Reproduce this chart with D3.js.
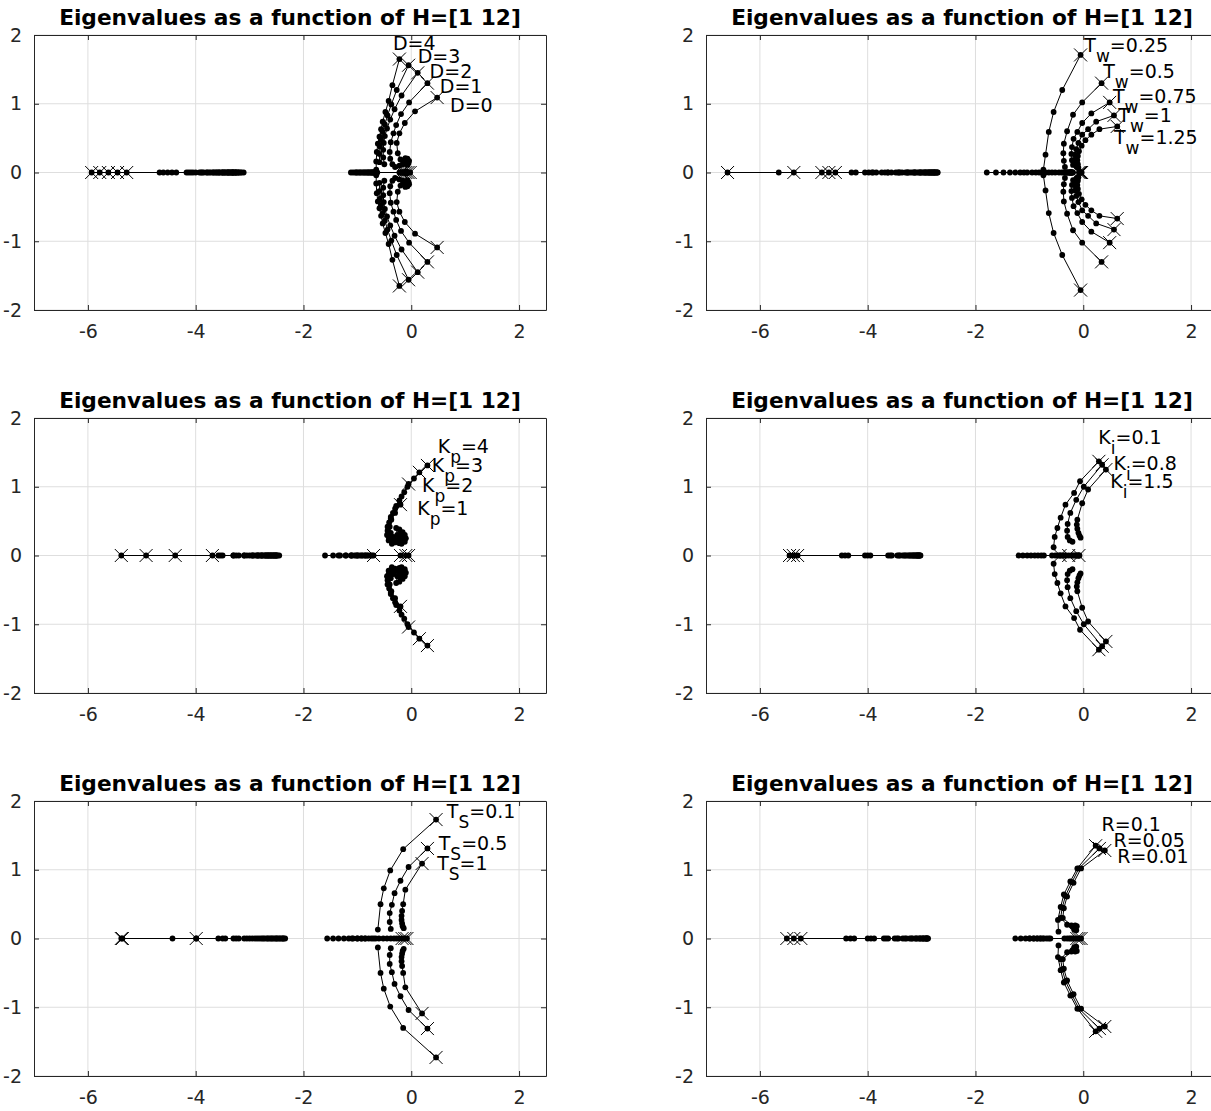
<!DOCTYPE html>
<meta charset="utf-8">
<script src="https://cdn.jsdelivr.net/npm/d3@7"></script>
<style>
body { margin: 0; background: #fff; }
text { font-family: "DejaVu Sans", sans-serif; }
</style>
<div id="chart"></div>
<script>
// ---- shared axis setup ----
const titleText = "Eigenvalues as a function of H=[1 12]";
const xTicks = [-6, -4, -2, 0, 2];
const yTicks = [-2, -1, 0, 1, 2];

// ---- panel 1: damping D ----
const dLabels = ["D=0", "D=1", "D=2", "D=3", "D=4"];
const dLabelAt = [[0.72, 0.98], [0.53, 1.26], [0.34, 1.47], [0.12, 1.69], [-0.34, 1.88]];
const dFar = [
  [-5.28, -4.36, -4.00, -3.80, -3.62, -3.50, -3.40, -3.32, -3.25, -3.20, -3.15, -3.11],
  [-5.45, -4.44, -4.05, -3.85, -3.68, -3.56, -3.46, -3.38, -3.31, -3.26, -3.21, -3.17],
  [-5.62, -4.52, -4.09, -3.88, -3.72, -3.60, -3.50, -3.42, -3.36, -3.31, -3.26, -3.22],
  [-5.78, -4.60, -4.13, -3.90, -3.75, -3.64, -3.55, -3.47, -3.41, -3.35, -3.30, -3.26],
  [-5.93, -4.67, -4.17, -3.93, -3.78, -3.67, -3.58, -3.51, -3.45, -3.39, -3.34, -3.30]
];
const dCplx = [
  [[0.48, 1.09], [0.07, 0.89], [-0.12, 0.72], [-0.22, 0.57], [-0.27, 0.43], [-0.25, 0.28], [-0.20, 0.19], [-0.14, 0.15], [-0.10, 0.13], [-0.07, 0.11], [-0.05, 0.14], [-0.04, 0.17], [-0.07, 0.20], [-0.11, 0.21]],
  [[0.30, 1.30], [-0.04, 1.02], [-0.19, 0.85], [-0.28, 0.69], [-0.33, 0.57], [-0.38, 0.44], [-0.40, 0.30], [-0.39, 0.20], [-0.35, 0.12], [-0.30, 0.08], [-0.22, 0.10], [-0.16, 0.12], [-0.12, 0.17]],
  [[0.12, 1.45], [-0.18, 1.12], [-0.31, 0.92], [-0.39, 0.77], [-0.45, 0.64], [-0.49, 0.53], [-0.51, 0.43], [-0.52, 0.33], [-0.52, 0.22], [-0.50, 0.12]],
  [[-0.05, 1.56], [-0.27, 1.20], [-0.37, 0.99], [-0.44, 0.83], [-0.49, 0.70], [-0.53, 0.59], [-0.56, 0.48], [-0.58, 0.38], [-0.59, 0.27], [-0.59, 0.15]],
  [[-0.22, 1.65], [-0.35, 1.27], [-0.42, 1.04], [-0.48, 0.88], [-0.53, 0.74], [-0.56, 0.63], [-0.59, 0.52], [-0.62, 0.42], [-0.64, 0.30], [-0.65, 0.16], [-0.65, 0.04]]
];
const dNear = [
  [-0.02, -0.20, -0.16, -0.13, -0.11, -0.09, -0.08, -0.07, -0.06],
  [-0.06, -0.22, -0.18, -0.15, -0.12, -0.10, -0.09, -0.08, -0.07],
  [-0.10, -1.02, -0.95, -0.88, -0.82, -0.77, -0.73, -0.70, -0.67],
  [-0.14, -1.08, -1.00, -0.93, -0.86, -0.80, -0.75, -0.71, -0.68, -0.65],
  [-0.18, -1.12, -1.04, -0.97, -0.90, -0.84, -0.79, -0.74, -0.70, -0.66, -0.63]
];

// ---- panel 2: turbine time constant T_w ----
const twLabels = ["T_w=0.25", "T_w=0.5", "T_w=0.75", "T_w=1", "T_w=1.25"];
const twLabelAt = [[0.02, 1.86], [0.37, 1.47], [0.55, 1.12], [0.65, 0.84], [0.57, 0.52]];
const twFar = [
  [-6.60, -5.65, -4.30, -3.90, -3.62, -3.42, -3.26, -3.12, -3.01, -2.92, -2.84, -2.77],
  [-5.37, -4.22, -3.84, -3.56, -3.36, -3.20, -3.08, -2.98, -2.90, -2.84, -2.79, -2.74],
  [-4.85, -4.05, -3.74, -3.48, -3.30, -3.16, -3.05, -2.96, -2.88, -2.82, -2.77, -2.72],
  [-4.72, -3.98, -3.68, -3.44, -3.27, -3.14, -3.03, -2.94, -2.87, -2.81, -2.76, -2.71],
  [-4.60, -3.92, -3.63, -3.40, -3.24, -3.12, -3.02, -2.93, -2.86, -2.80, -2.75, -2.70]
];
const twCplx = [
  [[-0.05, 1.71], [-0.39, 1.20], [-0.55, 0.88], [-0.64, 0.59], [-0.70, 0.26], [-0.74, 0.04]],
  [[0.34, 1.30], [-0.02, 1.02], [-0.19, 0.84], [-0.30, 0.60], [-0.36, 0.42], [-0.37, 0.28], [-0.36, 0.17], [-0.34, 0.08]],
  [[0.49, 1.02], [0.15, 0.86], [-0.02, 0.72], [-0.11, 0.59], [-0.18, 0.49], [-0.21, 0.37], [-0.22, 0.27], [-0.21, 0.18], [-0.19, 0.11]],
  [[0.57, 0.83], [0.24, 0.74], [0.09, 0.63], [-0.02, 0.55], [-0.09, 0.43], [-0.13, 0.34], [-0.15, 0.26], [-0.15, 0.19], [-0.14, 0.13], [-0.12, 0.08]],
  [[0.63, 0.67], [0.30, 0.63], [0.15, 0.55], [0.04, 0.47], [-0.03, 0.39], [-0.08, 0.31], [-0.10, 0.24], [-0.11, 0.18], [-0.10, 0.12], [-0.09, 0.07]]
];
const twNear = [
  [-0.08, -1.79, -1.62, -1.48, -1.36, -1.26, -1.17, -1.10, -1.04],
  [-0.06, -0.95, -0.88, -0.82, -0.76, -0.70, -0.64, -0.58, -0.52],
  [-0.05, -0.45, -0.40, -0.36, -0.32, -0.29, -0.26, -0.24, -0.22],
  [-0.04, -0.30, -0.27, -0.25, -0.23, -0.21],
  [-0.03, -0.24, -0.22, -0.20, -0.19]
];

// ---- panel 3: proportional gain K_p ----
const kpLabels = ["K_p=1", "K_p=2", "K_p=3", "K_p=4"];
const kpLabelAt = [[0.11, 0.69], [0.20, 1.03], [0.38, 1.32], [0.49, 1.59]];
const kpFar = [
  [-3.69, -3.30, -3.10, -2.95, -2.85, -2.77, -2.70, -2.65, -2.60, -2.55, -2.50, -2.45],
  [-4.38, -3.50, -3.20, -3.00, -2.88, -2.80, -2.73, -2.67, -2.62, -2.57, -2.52, -2.48],
  [-4.92, -3.54, -3.25, -3.05, -2.92, -2.83, -2.76, -2.69, -2.64, -2.59, -2.54, -2.50],
  [-5.38, -3.58, -3.30, -3.10, -2.95, -2.85, -2.78, -2.71, -2.66, -2.61, -2.56, -2.52]
];
const kpCplx = [
  [[-0.20, 0.74], [-0.30, 0.62], [-0.37, 0.52], [-0.40, 0.42], [-0.38, 0.33], [-0.33, 0.27], [-0.27, 0.22], [-0.22, 0.19], [-0.18, 0.17], [-0.12, 0.20], [-0.10, 0.25], [-0.12, 0.30]],
  [[-0.05, 1.04], [-0.18, 0.86], [-0.30, 0.68], [-0.38, 0.54], [-0.42, 0.42], [-0.40, 0.32], [-0.34, 0.25], [-0.28, 0.21], [-0.22, 0.18], [-0.16, 0.22], [-0.14, 0.28], [-0.16, 0.34]],
  [[0.15, 1.21], [-0.07, 1.00], [-0.22, 0.80], [-0.34, 0.62], [-0.41, 0.48], [-0.44, 0.36], [-0.42, 0.27], [-0.36, 0.22], [-0.30, 0.19], [-0.22, 0.24], [-0.20, 0.31], [-0.22, 0.38]],
  [[0.30, 1.31], [0.05, 1.12], [-0.13, 0.92], [-0.28, 0.72], [-0.38, 0.56], [-0.44, 0.42], [-0.45, 0.30], [-0.42, 0.22], [-0.36, 0.17], [-0.28, 0.22], [-0.26, 0.30], [-0.28, 0.40]]
];
const kpNear = [
  [-0.05, -0.85, -0.80, -0.76, -0.73],
  [-0.10, -1.10, -1.00, -0.92, -0.86, -0.82],
  [-0.20, -1.35, -1.22, -1.11, -1.02, -0.95, -0.90],
  [-0.70, -1.60, -1.45, -1.32, -1.21, -1.12, -1.05, -0.99]
];

// ---- panel 4: integral gain K_i ----
const kiLabels = ["K_i=0.1", "K_i=0.8", "K_i=1.5"];
const kiLabelAt = [[0.28, 1.73], [0.56, 1.34], [0.50, 1.08]];
const kiFar = [
  [-5.45, -4.48, -4.05, -3.62, -3.45, -3.35, -3.27, -3.20, -3.15, -3.10, -3.07, -3.04],
  [-5.38, -4.42, -4.00, -3.58, -3.42, -3.32, -3.24, -3.18, -3.13, -3.09, -3.06, -3.03],
  [-5.30, -4.36, -3.95, -3.55, -3.40, -3.30, -3.22, -3.16, -3.12, -3.08, -3.05, -3.02]
];
const kiCplx = [
  [[0.29, 1.37], [-0.06, 1.08], [-0.17, 0.91], [-0.33, 0.74], [-0.42, 0.55], [-0.48, 0.40], [-0.53, 0.27], [-0.55, 0.12]],
  [[0.35, 1.32], [0.01, 1.00], [-0.13, 0.81], [-0.24, 0.62], [-0.29, 0.46], [-0.30, 0.36], [-0.29, 0.27], [-0.25, 0.22], [-0.20, 0.20]],
  [[0.42, 1.25], [0.09, 0.96], [-0.02, 0.76], [-0.11, 0.52], [-0.12, 0.45], [-0.11, 0.39], [-0.09, 0.33], [-0.07, 0.29], [-0.05, 0.26]]
];
const kiNear = [
  [-0.43, -1.20, -1.12, -1.04, -0.97, -0.90, -0.84, -0.78, -0.73],
  [-0.27, -0.58, -0.52, -0.47, -0.43, -0.39, -0.35, -0.32],
  [-0.08, -0.22, -0.19, -0.16, -0.13, -0.11, -0.09, -0.07]
];

// ---- panel 5: sampling time T_S ----
const tsLabels = ["T_S=0.1", "T_S=0.5", "T_S=1"];
const tsLabelAt = [[0.66, 1.86], [0.51, 1.39], [0.48, 1.10]];
const tsFar = [
  [-5.38, -4.43, -3.58, -3.30, -3.10, -2.95, -2.82, -2.72, -2.63, -2.55, -2.48, -2.40],
  [-5.36, -3.99, -3.50, -3.25, -3.05, -2.90, -2.78, -2.68, -2.60, -2.52, -2.45, -2.37],
  [-3.99, -3.45, -3.20, -3.00, -2.86, -2.75, -2.66, -2.58, -2.50, -2.43, -2.38, -2.34]
];
const tsCplx = [
  [[0.46, 1.73], [-0.15, 1.30], [-0.39, 0.99], [-0.51, 0.73], [-0.57, 0.50], [-0.62, 0.13]],
  [[0.30, 1.31], [-0.05, 1.04], [-0.20, 0.84], [-0.31, 0.66], [-0.36, 0.49], [-0.40, 0.37], [-0.40, 0.24], [-0.38, 0.14]],
  [[0.20, 1.09], [-0.11, 0.71], [-0.15, 0.50], [-0.17, 0.40], [-0.18, 0.33], [-0.18, 0.27], [-0.17, 0.22], [-0.16, 0.18], [-0.14, 0.15]]
];
const tsNear = [
  [-0.17, -1.56, -1.45, -1.35, -1.25, -1.16, -1.08, -1.00, -0.93, -0.86],
  [-0.12, -1.10, -1.00, -0.92, -0.85, -0.79, -0.74, -0.70, -0.66],
  [-0.08, -0.60, -0.52, -0.45, -0.38, -0.32, -0.27, -0.22]
];

// ---- panel 6: droop R ----
const rLabels = ["R=0.1", "R=0.05", "R=0.01"];
const rLabelAt = [[0.34, 1.67], [0.56, 1.44], [0.63, 1.20]];
const rFar = [
  [-5.50, -4.40, -4.00, -3.70, -3.50, -3.35, -3.22, -3.12, -3.04, -2.98, -2.93, -2.90],
  [-5.37, -4.32, -3.94, -3.66, -3.46, -3.31, -3.19, -3.10, -3.03, -2.97, -2.92, -2.89],
  [-5.24, -4.25, -3.88, -3.62, -3.43, -3.28, -3.17, -3.08, -3.01, -2.96, -2.91, -2.88]
];
const rCplx = [
  [[0.23, 1.35], [-0.11, 1.02], [-0.24, 0.83], [-0.36, 0.64], [-0.42, 0.46], [-0.47, 0.27], [-0.46, 0.10]],
  [[0.30, 1.31], [-0.08, 1.02], [-0.21, 0.82], [-0.33, 0.62], [-0.39, 0.45], [-0.42, 0.30], [-0.30, 0.20], [-0.20, 0.17], [-0.17, 0.13], [-0.15, 0.19]],
  [[0.40, 1.28], [-0.04, 1.02], [-0.18, 0.81], [-0.30, 0.61], [-0.36, 0.44], [-0.38, 0.30], [-0.22, 0.19], [-0.15, 0.16], [-0.13, 0.12], [-0.12, 0.18]]
];
const rNear = [
  [-0.12, -1.26, -1.16, -1.07, -0.99, -0.92, -0.86, -0.80, -0.75],
  [-0.08, -1.00, -0.92, -0.85, -0.79, -0.73, -0.68, -0.64, -0.61],
  [-0.04, -0.35, -0.30, -0.26, -0.23, -0.20, -0.17]
];

const panels = [
  { col: 0, row: 0, labels: dLabels, labelAt: dLabelAt, far: dFar, cplx: dCplx, near: dNear },
  { col: 1, row: 0, labels: twLabels, labelAt: twLabelAt, far: twFar, cplx: twCplx, near: twNear },
  { col: 0, row: 1, labels: kpLabels, labelAt: kpLabelAt, far: kpFar, cplx: kpCplx, near: kpNear },
  { col: 1, row: 1, labels: kiLabels, labelAt: kiLabelAt, far: kiFar, cplx: kiCplx, near: kiNear },
  { col: 0, row: 2, labels: tsLabels, labelAt: tsLabelAt, far: tsFar, cplx: tsCplx, near: tsNear },
  { col: 1, row: 2, labels: rLabels, labelAt: rLabelAt, far: rFar, cplx: rCplx, near: rNear }
];

// layout
var W = 1211, H = 1111;
var axW = 512, axH = 275;
var colX = [34, 706], rowY = [35, 418, 801];

var svg = d3.select("#chart").append("svg")
  .attr("width", W).attr("height", H);

panels.forEach(function(p) {
  var left = colX[p.col], top = rowY[p.row];
  var x = d3.scaleLinear().domain([-7, 2.5]).range([left, left + axW]);
  var y = d3.scaleLinear().domain([-2, 2]).range([top + axH, top]);
  var g = svg.append("g");

  // grid
  g.selectAll(".gx").data(xTicks).enter().append("line")
    .attr("x1", d => x(d)).attr("x2", d => x(d))
    .attr("y1", top).attr("y2", top + axH)
    .attr("stroke", "#dedede").attr("stroke-width", 1);
  g.selectAll(".gy").data(yTicks).enter().append("line")
    .attr("x1", left).attr("x2", left + axW)
    .attr("y1", d => y(d)).attr("y2", d => y(d))
    .attr("stroke", "#dedede").attr("stroke-width", 1);

  // axes (ticks pointing inward, MATLAB style)
  var fmt = d => String(d);
  g.append("g").attr("transform", "translate(0," + (top + axH) + ")")
    .call(d3.axisBottom(x).tickValues(xTicks).tickFormat(fmt).tickSizeInner(-5).tickSizeOuter(0).tickPadding(15));
  g.append("g").attr("transform", "translate(" + left + ",0)")
    .call(d3.axisLeft(y).tickValues(yTicks).tickFormat(fmt).tickSizeInner(-5).tickSizeOuter(0).tickPadding(12));
  g.append("g").attr("transform", "translate(0," + top + ")")
    .call(d3.axisTop(x).tickValues(xTicks).tickSizeInner(-5).tickSizeOuter(0).tickFormat(""));
  g.append("g").attr("transform", "translate(" + (left + axW) + ",0)")
    .call(d3.axisRight(y).tickValues(yTicks).tickSizeInner(-5).tickSizeOuter(0).tickFormat(""));
  g.selectAll(".domain").attr("stroke", "#262626");
  g.selectAll(".tick line").attr("stroke", "#262626");
  g.selectAll(".tick text").attr("fill", "#262626")
    .style("font-size", "19px").style("font-family", "DejaVu Sans");

  // title
  g.append("text")
    .attr("x", left + axW / 2).attr("y", top - 10)
    .attr("text-anchor", "middle")
    .style("font-size", "21.7px").style("font-weight", "bold")
    .text(titleText);

  // collect branches: each is a list of [re, im], first point is H=1 (x marker)
  var branches = [];
  p.far.forEach(s => branches.push(s.map(v => [v, 0])));
  p.near.forEach(s => branches.push(s.map(v => [v, 0])));
  p.cplx.forEach(s => {
    branches.push(s);
    branches.push(s.map(d => [d[0], -d[1]]));   // conjugate eigenvalues
  });

  var line = d3.line().x(d => x(d[0])).y(d => y(d[1]));
  g.selectAll(".br").data(branches).enter().append("path")
    .attr("d", line).attr("fill", "none")
    .attr("stroke", "#000").attr("stroke-width", 1);

  branches.forEach(function(b) {
    g.selectAll(null).data(b).enter().append("circle")
      .attr("cx", d => x(d[0])).attr("cy", d => y(d[1]))
      .attr("r", 2.9).attr("fill", "#000");
    var s = 6.5, px = x(b[0][0]), py = y(b[0][1]);
    g.append("path")
      .attr("d", "M" + (px - s) + "," + (py - s) + "L" + (px + s) + "," + (py + s) +
                 "M" + (px - s) + "," + (py + s) + "L" + (px + s) + "," + (py - s))
      .attr("stroke", "#000").attr("stroke-width", 1);
  });

  // series labels, with tex-like subscripts
  p.labels.forEach(function(lab, i) {
    var pos = p.labelAt[i];
    var t = g.append("text")
      .attr("x", x(pos[0])).attr("y", y(pos[1]) + 7)
      .style("font-size", "19px");
    var m = lab.match(/^(\w)_(\w)(.*)$/);
    if (m) {
      t.append("tspan").text(m[1]);
      t.append("tspan").attr("dy", 10).style("font-size", "17px").text(m[2]);
      t.append("tspan").attr("dy", -10).text(m[3]);
    } else {
      t.text(lab);
    }
  });
});
</script>
